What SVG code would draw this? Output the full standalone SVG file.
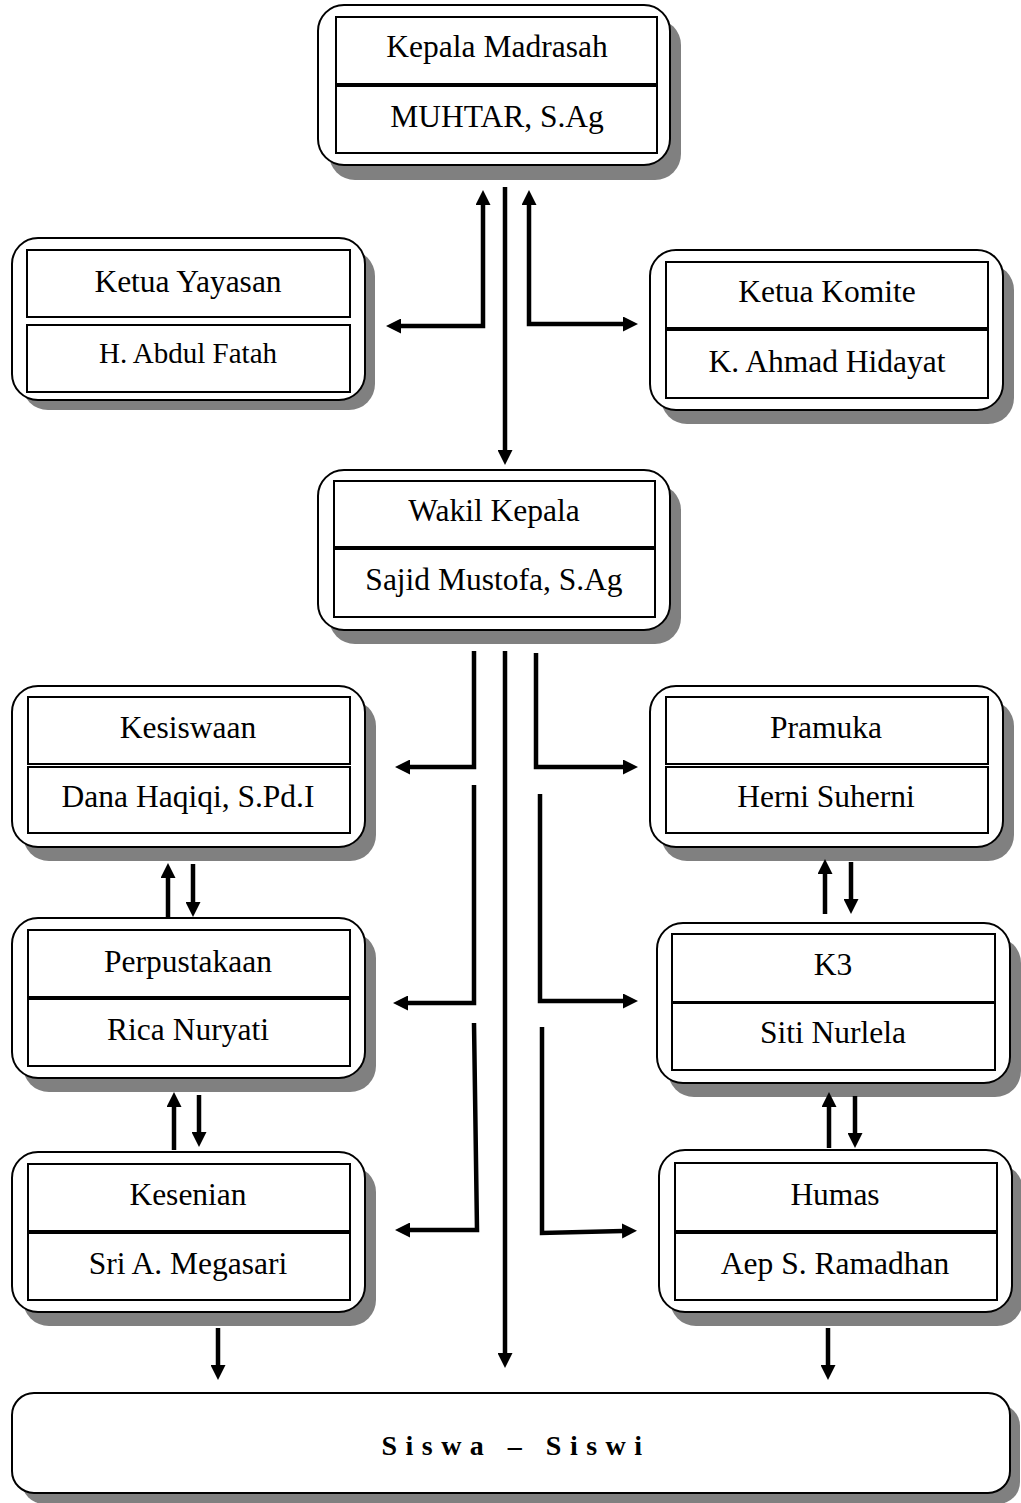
<svg xmlns="http://www.w3.org/2000/svg" width="1021" height="1503" viewBox="0 0 1021 1503">
<defs>
<marker id="ah" viewBox="0 0 15 15" markerWidth="15" markerHeight="15" markerUnits="userSpaceOnUse" refX="1" refY="7.5" orient="auto-start-reverse">
<path d="M0,0 L15,7.5 L0,15 z" fill="#000"/>
</marker>
<style>
.sh{fill:#808080}
.ob{fill:#fff;stroke:#000;stroke-width:2}
.ib{fill:#fff;stroke:#000;stroke-width:2}
.t{font-family:"Liberation Serif","Times New Roman",serif;font-size:31.5px;text-anchor:middle;fill:#000}
.c{fill:none;stroke:#000;stroke-width:4.5}
</style>
</defs>
<g id="kepala">
<rect class="sh" x="329" y="19" width="352" height="161" rx="26"/>
<rect class="ob" x="318" y="5" width="352" height="160" rx="26"/>
<rect class="ib" x="336" y="17" width="321" height="67"/>
<rect class="ib" x="336" y="86" width="321" height="67"/>
<text class="t" x="497" y="57">Kepala Madrasah</text>
<text class="t" x="497" y="127">MUHTAR, S.Ag</text>
</g>
<g id="yayasan">
<rect class="sh" x="22" y="250" width="353" height="160" rx="26"/>
<rect class="ob" x="12" y="238" width="353" height="162" rx="26"/>
<rect class="ib" x="27" y="250" width="323" height="67"/>
<rect class="ib" x="27" y="325" width="323" height="67"/>
<text class="t" x="188" y="292">Ketua Yayasan</text>
<text class="t" x="188" y="363" style="font-size:29px">H. Abdul Fatah</text>
</g>
<g id="komite">
<rect class="sh" x="661" y="264" width="353" height="160" rx="26"/>
<rect class="ob" x="650" y="250" width="353" height="160" rx="26"/>
<rect class="ib" x="666" y="262" width="322" height="66"/>
<rect class="ib" x="666" y="330" width="322" height="68"/>
<text class="t" x="827" y="302">Ketua Komite</text>
<text class="t" x="827" y="372">K. Ahmad Hidayat</text>
</g>
<g id="wakil">
<rect class="sh" x="329" y="484" width="352" height="160" rx="26"/>
<rect class="ob" x="318" y="470" width="352" height="160" rx="26"/>
<rect class="ib" x="334" y="481" width="321" height="66"/>
<rect class="ib" x="334" y="549" width="321" height="68"/>
<text class="t" x="494" y="521">Wakil Kepala</text>
<text class="t" x="494" y="590">Sajid Mustofa, S.Ag</text>
</g>
<g id="kesiswaan">
<rect class="sh" x="23" y="700" width="353" height="161" rx="26"/>
<rect class="ob" x="12" y="686" width="353" height="161" rx="26"/>
<rect class="ib" x="28" y="697" width="322" height="67"/>
<rect class="ib" x="28" y="767" width="322" height="66"/>
<text class="t" x="188" y="738">Kesiswaan</text>
<text class="t" x="188" y="807">Dana Haqiqi, S.Pd.I</text>
</g>
<g id="pramuka">
<rect class="sh" x="661" y="700" width="353" height="161" rx="26"/>
<rect class="ob" x="650" y="686" width="353" height="161" rx="26"/>
<rect class="ib" x="666" y="697" width="322" height="67"/>
<rect class="ib" x="666" y="767" width="322" height="66"/>
<text class="t" x="826" y="738">Pramuka</text>
<text class="t" x="826" y="807">Herni Suherni</text>
</g>
<g id="perpustakaan">
<rect class="sh" x="23" y="932" width="353" height="160" rx="26"/>
<rect class="ob" x="12" y="918" width="353" height="160" rx="26"/>
<rect class="ib" x="28" y="930" width="322" height="67"/>
<rect class="ib" x="28" y="999" width="322" height="67"/>
<text class="t" x="188" y="972">Perpustakaan</text>
<text class="t" x="188" y="1040">Rica Nuryati</text>
</g>
<g id="k3">
<rect class="sh" x="668" y="937" width="353" height="160" rx="26"/>
<rect class="ob" x="657" y="923" width="353" height="160" rx="26"/>
<rect class="ib" x="672" y="934" width="323" height="68"/>
<rect class="ib" x="672" y="1003" width="323" height="67"/>
<text class="t" x="833" y="975">K3</text>
<text class="t" x="833" y="1043">Siti Nurlela</text>
</g>
<g id="kesenian">
<rect class="sh" x="23" y="1166" width="353" height="160" rx="26"/>
<rect class="ob" x="12" y="1152" width="353" height="160" rx="26"/>
<rect class="ib" x="28" y="1164" width="322" height="67"/>
<rect class="ib" x="28" y="1233" width="322" height="67"/>
<text class="t" x="188" y="1205">Kesenian</text>
<text class="t" x="188" y="1274">Sri A. Megasari</text>
</g>
<g id="humas">
<rect class="sh" x="670" y="1164" width="353" height="162" rx="26"/>
<rect class="ob" x="659" y="1150" width="353" height="162" rx="26"/>
<rect class="ib" x="675" y="1163" width="322" height="68"/>
<rect class="ib" x="675" y="1233" width="322" height="67"/>
<text class="t" x="835" y="1205">Humas</text>
<text class="t" x="835" y="1274">Aep S. Ramadhan</text>
</g>
<g id="siswa">
<rect class="sh" x="22" y="1404" width="998" height="100" rx="22"/>
<rect class="ob" x="12" y="1393" width="998" height="100" rx="22"/>
<text class="t" x="516" y="1455" style="font-weight:bold;font-size:28px;letter-spacing:8.5px">Siswa – Siswi</text>
</g>
<g id="connectors">
<path class="c" d="M505,187 L505,451" marker-end="url(#ah)"/>
<path class="c" d="M483,204 L483,326 L400,326" marker-start="url(#ah)" marker-end="url(#ah)"/>
<path class="c" d="M529,204 L529,324 L624,324" marker-start="url(#ah)" marker-end="url(#ah)"/>
<path class="c" d="M505,651 L505,1354" marker-end="url(#ah)"/>
<path class="c" d="M474,651 L474,767 L409,767" marker-end="url(#ah)"/>
<path class="c" d="M536,653 L536,767 L624,767" marker-end="url(#ah)"/>
<path class="c" d="M474,785 L474,1003 L407,1003" marker-end="url(#ah)"/>
<path class="c" d="M540,794 L540,1001 L624,1001" marker-end="url(#ah)"/>
<path class="c" d="M474,1023 L477,1230 L409,1230" marker-end="url(#ah)"/>
<path class="c" d="M542,1027 L542,1233 L623,1231" marker-end="url(#ah)"/>
<path class="c" d="M168,918 L168,877" marker-end="url(#ah)"/>
<path class="c" d="M193,864 L193,903" marker-end="url(#ah)"/>
<path class="c" d="M174,1150 L174,1106" marker-end="url(#ah)"/>
<path class="c" d="M199,1095 L199,1133" marker-end="url(#ah)"/>
<path class="c" d="M825,914 L825,873" marker-end="url(#ah)"/>
<path class="c" d="M851,862 L851,900" marker-end="url(#ah)"/>
<path class="c" d="M829,1148 L829,1106" marker-end="url(#ah)"/>
<path class="c" d="M855,1096 L855,1134" marker-end="url(#ah)"/>
<path class="c" d="M218,1328 L218,1366" marker-end="url(#ah)"/>
<path class="c" d="M828,1328 L828,1366" marker-end="url(#ah)"/>
</g>
</svg>
